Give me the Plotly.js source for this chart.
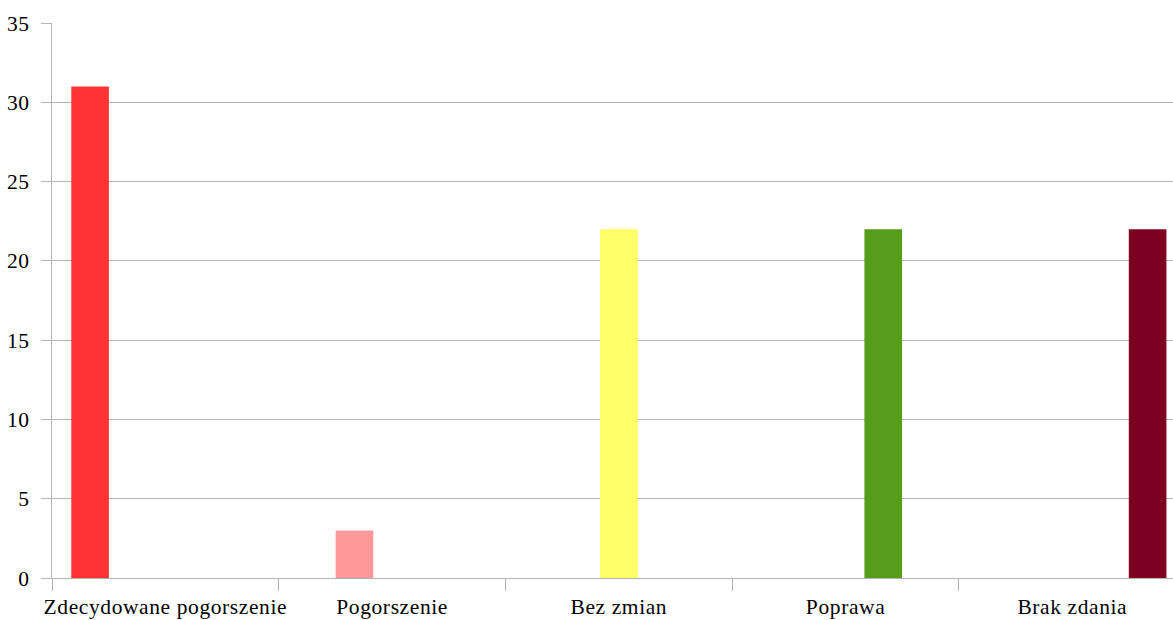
<!DOCTYPE html>
<html><head><meta charset="utf-8">
<script src="https://cdn.plot.ly/plotly-3.0.1.min.js"></script>
<style>html,body{margin:0;padding:0;overflow:hidden;background:#fff}
#chart .xtick text, #chart .ytick text{letter-spacing:0.6px}</style>
</head><body>
<div id="chart" style="width:1173px;height:620px"></div>
<script>
const categories = ["Zdecydowane pogorszenie", "Pogorszenie", "Bez zmian", "Poprawa", "Brak zdania"];
const zdecydowanePogorszenie = [31, 0, 0, 0, 0];
const pogorszenie = [0, 3, 0, 0, 0];
const bezZmian = [0, 0, 22, 0, 0];
const poprawa = [0, 0, 0, 22, 0];
const brakZdania = [0, 0, 0, 0, 22];
const seriesValues = [zdecydowanePogorszenie, pogorszenie, bezZmian, poprawa, brakZdania];
const colors = ["#FF3333", "#FF9999", "#FFFF66", "#579D1C", "#7E0021"];
const yTicks = [0, 5, 10, 15, 20, 25, 30, 35];

const traces = seriesValues.map((vals, i) => ({
  type: "bar",
  x: categories,
  y: vals,
  name: categories[i],
  marker: {color: colors[i], line: {width: 0}},
  hoverinfo: "x+y"
}));

const font = {family: "'Liberation Serif', 'Times New Roman', serif", size: 21.5, color: "#000"};
const layout = {
  width: 1173, height: 620,
  margin: {l: 52, r: 0, t: 23, b: 42, pad: 0},
  paper_bgcolor: "#fff", plot_bgcolor: "#fff",
  font: font,
  showlegend: false,
  barmode: "group",
  bargap: 0.17,
  bargroupgap: 0,
  xaxis: {
    type: "category",
    range: [-0.5, 4.444],
    tickson: "boundaries",
    tickangle: 0,
    ticks: "outside", ticklen: 12, tickcolor: "#b3b3b3", tickwidth: 1,
    showline: true, linecolor: "#b3b3b3", linewidth: 1,
    showgrid: false, zeroline: false,
    tickfont: font,
    ticklabelstandoff: 9,
    fixedrange: true
  },
  yaxis: {
    range: [0, 35],
    tickvals: yTicks,
    ticktext: yTicks.map(String),
    ticks: "outside", ticklen: 10, tickcolor: "#b3b3b3", tickwidth: 1,
    showline: true, linecolor: "#b3b3b3", linewidth: 1,
    showgrid: true, gridcolor: "#b3b3b3", gridwidth: 1,
    zeroline: false,
    tickfont: font,
    ticklabelstandoff: 7,
    fixedrange: true
  }
};
Plotly.newPlot("chart", traces, layout, {displayModeBar: false, staticPlot: true});
</script>
</body></html>
